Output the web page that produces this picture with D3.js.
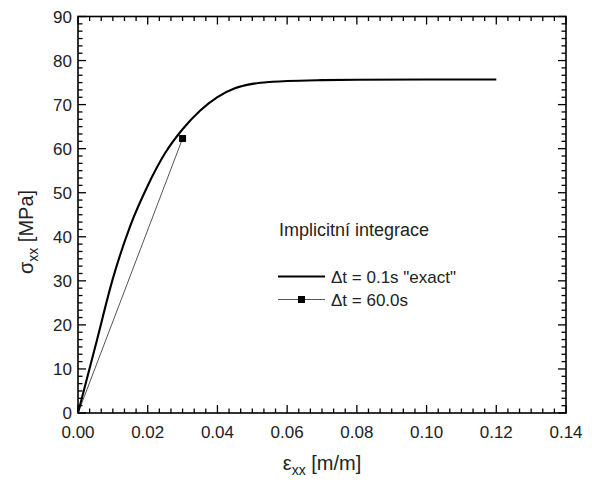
<!DOCTYPE html>
<html>
<head>
<meta charset="utf-8">
<script src="https://cdn.jsdelivr.net/npm/d3@7"></script>
<style>
  html, body { margin: 0; padding: 0; background: #fff; }
  svg { display: block; font-family: "Liberation Sans", Arial, sans-serif; }
</style>
</head>
<body>
<svg id="chart" width="592" height="486"></svg>
<script>
// Stress-strain response, fine time step (reference solution)
const strainExact = [0, 0.005, 0.01, 0.015, 0.02, 0.025, 0.03, 0.035, 0.04, 0.045,
  0.05, 0.055, 0.06, 0.07, 0.08, 0.1, 0.12];
const stressExact = [0, 15.2, 30.5, 42.5, 51.6, 59.0, 64.4, 68.6, 71.7, 73.7,
  74.7, 75.15, 75.35, 75.55, 75.65, 75.7, 75.7];

// Same problem with one large time step
const strainCoarse = [0, 0.03];
const stressCoarse = [0, 62.3];

const xTicks = [0, 0.02, 0.04, 0.06, 0.08, 0.10, 0.12, 0.14];
const yTicks = [0, 10, 20, 30, 40, 50, 60, 70, 80, 90];

const legendTitle = "Implicitní integrace";
const seriesNames = ["\u0394t = 0.1s \"exact\"", "\u0394t = 60.0s"];

const W = 592, H = 486;
const m = { left: 78, top: 16.5, right: 26, bottom: 73 };
const svg = d3.select("#chart");

const x = d3.scaleLinear().domain([0, 0.14]).range([m.left, W - m.right]);
const y = d3.scaleLinear().domain([0, 90]).range([H - m.bottom, m.top]);

// minor ticks: six subdivisions per major interval
function minors(ticks) {
  const out = [];
  for (let i = 0; i < ticks.length - 1; i++) {
    const step = (ticks[i + 1] - ticks[i]) / 6;
    for (let k = 1; k < 6; k++) out.push(ticks[i] + k * step);
  }
  return out;
}
const xMinor = minors(xTicks), yMinor = minors(yTicks);

const axes = svg.append("g").attr("stroke", "#000").attr("stroke-width", 1.3);
const x0 = x.range()[0], x1 = x.range()[1], y0 = y.range()[0], y1 = y.range()[1];
const MAJ = 8, MIN = 4.5;

// bottom and top ticks (pointing inward)
xTicks.forEach(v => {
  axes.append("line").attr("x1", x(v)).attr("x2", x(v)).attr("y1", y0).attr("y2", y0 - MAJ);
  axes.append("line").attr("x1", x(v)).attr("x2", x(v)).attr("y1", y1).attr("y2", y1 + MAJ);
});
xMinor.forEach(v => {
  axes.append("line").attr("x1", x(v)).attr("x2", x(v)).attr("y1", y0).attr("y2", y0 - MIN);
  axes.append("line").attr("x1", x(v)).attr("x2", x(v)).attr("y1", y1).attr("y2", y1 + MIN);
});
// left and right ticks
yTicks.forEach(v => {
  axes.append("line").attr("y1", y(v)).attr("y2", y(v)).attr("x1", x0).attr("x2", x0 + MAJ);
  axes.append("line").attr("y1", y(v)).attr("y2", y(v)).attr("x1", x1).attr("x2", x1 - MAJ);
});
yMinor.forEach(v => {
  axes.append("line").attr("y1", y(v)).attr("y2", y(v)).attr("x1", x0).attr("x2", x0 + MIN);
  axes.append("line").attr("y1", y(v)).attr("y2", y(v)).attr("x1", x1).attr("x2", x1 - MIN);
});

// frame
svg.append("rect").attr("x", x0).attr("y", y1).attr("width", x1 - x0).attr("height", y0 - y1)
  .attr("fill", "none").attr("stroke", "#000").attr("stroke-width", 1.6);

// tick labels
svg.append("g").selectAll("text").data(xTicks).join("text")
  .attr("x", d => x(d)).attr("y", y0 + 25).attr("text-anchor", "middle")
  .attr("font-size", 17).attr("fill", "#222").text(d => d.toFixed(2));
svg.append("g").selectAll("text").data(yTicks).join("text")
  .attr("x", x0 - 6).attr("y", d => y(d) + 6).attr("text-anchor", "end")
  .attr("font-size", 17).attr("fill", "#222").text(d => d);

// axis titles
const xt = svg.append("text").attr("x", (x0 + x1) / 2).attr("y", 470).attr("text-anchor", "middle")
  .attr("font-size", 20).attr("fill", "#222");
xt.append("tspan").text("\u03b5");
xt.append("tspan").attr("font-size", 14).attr("dy", 5).text("xx");
xt.append("tspan").attr("dy", -5).text(" [m/m]");

const yt = svg.append("text").attr("transform", `translate(33,232) rotate(-90)`)
  .attr("text-anchor", "middle").attr("font-size", 20).attr("fill", "#222");
yt.append("tspan").text("\u03c3");
yt.append("tspan").attr("font-size", 14).attr("dy", 5).text("xx");
yt.append("tspan").attr("dy", -5).text(" [MPa]");

// series
const plot = svg.append("g");
const lineGen = d3.line().x(d => x(d[0])).y(d => y(d[1]));
plot.append("path")
  .datum(strainCoarse.map((v, i) => [v, stressCoarse[i]]))
  .attr("d", lineGen).attr("fill", "none").attr("stroke", "#555").attr("stroke-width", 1);
plot.append("path")
  .datum(strainExact.map((v, i) => [v, stressExact[i]]))
  .attr("d", d3.line().x(d => x(d[0])).y(d => y(d[1])).curve(d3.curveMonotoneX))
  .attr("fill", "none").attr("stroke", "#000").attr("stroke-width", 2.1);
plot.append("rect")
  .attr("x", x(strainCoarse[1]) - 3.5).attr("y", y(stressCoarse[1]) - 3.5)
  .attr("width", 7).attr("height", 7).attr("fill", "#000");

// legend
const lg = svg.append("g").attr("font-size", 17).attr("fill", "#222");
lg.append("text").attr("x", 279).attr("y", 236).attr("font-size", 18).text(legendTitle);
lg.append("line").attr("x1", 278).attr("x2", 325).attr("y1", 276.5).attr("y2", 276.5)
  .attr("stroke", "#000").attr("stroke-width", 2.1);
lg.append("text").attr("x", 331).attr("y", 282.5).text(seriesNames[0]);
lg.append("line").attr("x1", 278).attr("x2", 325).attr("y1", 299.5).attr("y2", 299.5)
  .attr("stroke", "#555").attr("stroke-width", 1);
lg.append("rect").attr("x", 298).attr("y", 296).attr("width", 7).attr("height", 7).attr("fill", "#000");
lg.append("text").attr("x", 331).attr("y", 305.5).text(seriesNames[1]);
</script>
</body>
</html>
